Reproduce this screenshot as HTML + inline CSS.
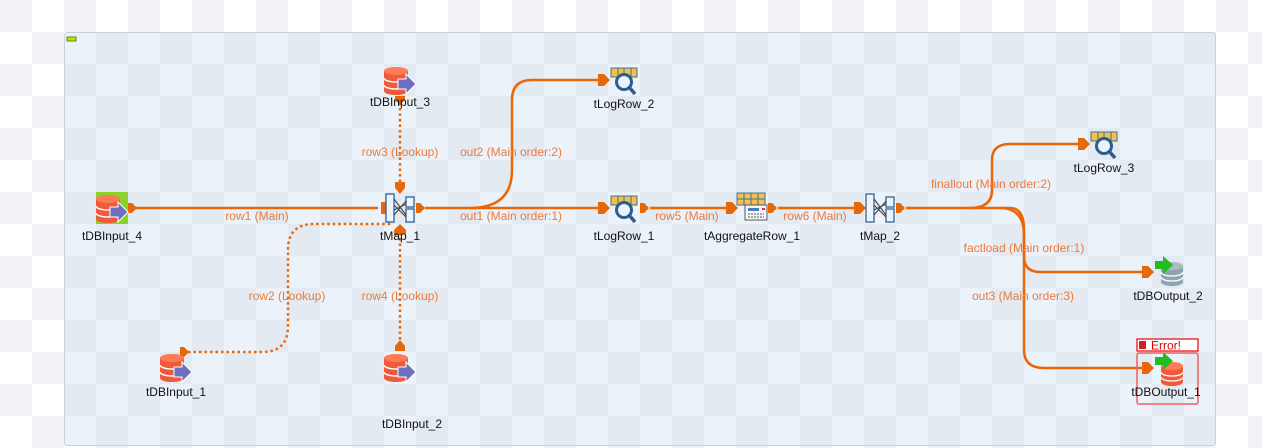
<!DOCTYPE html>
<html><head><meta charset="utf-8"><style>
html,body{margin:0;padding:0;background:#fff;}
svg{display:block;font-family:"Segoe UI","Liberation Sans",sans-serif;}
.nl{font-size:12px;fill:#111;text-anchor:middle;}
.cl{font-size:12px;fill:#ec7a3a;text-anchor:middle;}
.ln{fill:none;stroke:#e8670a;stroke-width:2.5;}
.dt{fill:none;stroke:#e8670a;stroke-width:2.5;stroke-dasharray:2.5 3;}
.ar{fill:#e8670a;}
</style></head><body>
<svg width="1262" height="448" viewBox="0 0 1262 448" xmlns="http://www.w3.org/2000/svg">
<defs>
<pattern id="outer" width="64" height="64" patternUnits="userSpaceOnUse">
<rect width="64" height="64" fill="#ffffff"/>
<rect x="0" y="0" width="32" height="32" fill="#f1f2f5"/>
<rect x="32" y="32" width="32" height="32" fill="#f1f2f5"/>
</pattern>
<pattern id="inner" x="64" y="32" width="64" height="64" patternUnits="userSpaceOnUse">
<rect width="64" height="64" fill="#e3eaf1"/>
<rect x="0" y="0" width="32" height="32" fill="#ecf2f9"/>
<rect x="32" y="32" width="32" height="32" fill="#ecf2f9"/>
</pattern>
<g id="db">
<path d="M-12,-10 v20 a12,4 0 0 0 24,0 v-20z" fill="#f05a3a"/>
<ellipse cx="0" cy="-10" rx="12" ry="4" fill="#ff7a55"/>
<path d="M-12,-3 a12,4 0 0 0 24,0 M-12,4 a12,4 0 0 0 24,0" stroke="#fff" stroke-width="1.5" fill="none"/>
</g>
<g id="inarrow"><path d="M-2,-5 h8 v-5 l10,10 l-10,10 v-5 h-8z" fill="#6f6fc2" stroke="#fff" stroke-width="1"/></g>
<g id="outarrow"><path d="M-10,-4 h8 v-5 l10,9 l-10,9 v-5 h-8z" fill="#22bb22"/></g>
<g id="log">
<rect x="-13" y="-13" width="26" height="9" fill="#f5c04a" stroke="#3c6fa0" stroke-width="1"/>
<path d="M-6,-13 v9 M0,-13 v9 M7,-13 v9" stroke="#3c6fa0" stroke-width="1"/>
<circle cx="0" cy="1" r="7.5" fill="#eaf2fb" stroke="#2d5d8c" stroke-width="3"/>
<path d="M5,6 l6,7" stroke="#2d5d8c" stroke-width="3.5"/>
</g>
<g id="map">
<rect x="-14" y="-14" width="8" height="28" fill="#eef4fb" stroke="#2f6496" stroke-width="1.3"/>
<rect x="6" y="-11" width="8" height="10" fill="#eef4fb" stroke="#2f6496" stroke-width="1.3"/>
<rect x="6" y="1" width="8" height="13" fill="#eef4fb" stroke="#2f6496" stroke-width="1.3"/>
<path d="M-6,-9 L6,7 M-6,7 L6,-7 M-6,-3 L6,9 M-6,2 L6,-4" stroke="#444" stroke-width="1.1"/>
</g>
<g id="outc"><path d="M0,-5 h4 l5,5 l-5,5 h-4z" class="ar"/></g>
<g id="inc"><path d="M-11,-6 h6 l6,6 l-6,6 h-6z" class="ar"/></g>
</defs>
<rect width="1262" height="448" fill="url(#outer)"/>
<rect x="64.5" y="32.5" width="1151" height="413" rx="3" fill="url(#inner)" stroke="#c8d2dc"/>
<rect x="67" y="37" width="9" height="4" fill="#c8e000" stroke="#5a8a00" stroke-width="1"/>

<path class="ln" d="M136,208 H378"/>
<path class="dt" d="M400,97 V182"/>
<path class="dt" d="M188,352 H262 Q288,352 288,326 V250 Q288,224 314,224 H393"/>
<path class="dt" d="M400,345 V232"/>
<path class="ln" d="M425,208 H602"/>
<path class="ln" d="M470,208 Q512,208 512,170 V100 Q512,80 532,80 H602"/>
<path class="ln" d="M650,208 H730"/>
<path class="ln" d="M778,208 H858"/>
<path class="ln" d="M906,208 H1010 Q1024,208 1024,230 V350 Q1024,368 1044,368 H1146"/>
<path class="ln" d="M970,208 Q992,208 992,190 V160 Q992,144 1010,144 H1082"/>
<path class="ln" d="M1000,208 Q1024,208 1024,235 V256 Q1024,272 1040,272 H1146"/>

<use href="#outc" x="128" y="208"/>
<use href="#inc" x="392" y="208"/>
<use href="#outc" x="416" y="208"/>
<path d="M395,182 h10 v6 l-5,6 l-5,-6z" class="ar"/>
<path d="M394,236 l0,-6 l6,-6 l6,6 v4z" class="ar"/>
<path d="M395,351 v-5 l5,-6 l5,6 v5z" class="ar"/>
<path d="M180,347 h4 l5,5 l-5,5 h-4z" class="ar"/>
<path d="M395,96 h10 v4 l-5,5 l-5,-5z" class="ar"/>
<use href="#inc" x="609" y="80"/>
<use href="#inc" x="609" y="208"/>
<use href="#outc" x="640" y="208"/>
<use href="#inc" x="737" y="208"/>
<use href="#outc" x="768" y="208"/>
<use href="#inc" x="865" y="208"/>
<use href="#outc" x="896" y="208"/>
<use href="#inc" x="1089" y="144"/>
<use href="#inc" x="1153" y="272"/>
<use href="#inc" x="1153" y="368"/>

<rect x="96" y="192" width="32" height="32" fill="#8ed12a"/>
<use href="#db" x="108" y="209"/><use href="#inarrow" x="112" y="212"/>
<use href="#db" x="396" y="81"/><use href="#inarrow" x="400" y="84"/>
<use href="#db" x="172" y="368"/><use href="#inarrow" x="176" y="372"/>
<use href="#db" x="396" y="368"/><use href="#inarrow" x="400" y="372"/>
<use href="#map" x="400" y="208"/>
<use href="#map" x="880" y="208"/>
<use href="#log" x="624" y="81"/>
<use href="#log" x="624" y="209"/>
<use href="#log" x="1104" y="145"/>
<g transform="translate(752,208)">
<rect x="-15" y="-15" width="28" height="12" fill="#f5c04a" stroke="#3c6fa0"/>
<path d="M-8,-15 v12 M-1,-15 v12 M6,-15 v12 M-15,-9 h28" stroke="#3c6fa0"/>
<rect x="-7" y="-3" width="22" height="15" fill="#f4f6f8" stroke="#555"/>
<rect x="-4" y="0" width="11" height="3" fill="#4a7bc0"/>
<rect x="10" y="0" width="3" height="2" fill="#e33"/>
<path d="M-4,6 h16 M-4,9 h16" stroke="#555" stroke-dasharray="2 1"/>
</g>
<g transform="translate(1172,272)">
<path d="M-11,-6 v16 a11,4 0 0 0 22,0 v-16z" fill="#8fa6b0"/>
<ellipse cx="0" cy="-6" rx="11" ry="4" fill="#a9bcc4"/>
<path d="M-11,0 a11,4 0 0 0 22,0 M-11,5 a11,4 0 0 0 22,0" stroke="#fff" stroke-width="1.3" fill="none"/>
</g>
<use href="#outarrow" x="1165" y="265"/>
<g transform="translate(1172,372)">
<path d="M-11,-6 v16 a11,4 0 0 0 22,0 v-16z" fill="#f05a3a"/>
<ellipse cx="0" cy="-6" rx="11" ry="4" fill="#ff7a55"/>
<path d="M-11,0 a11,4 0 0 0 22,0 M-11,5 a11,4 0 0 0 22,0" stroke="#fff" stroke-width="1.3" fill="none"/>
</g>
<use href="#outarrow" x="1165" y="361"/>
<rect x="1137" y="339" width="61" height="12" fill="#fff" stroke="#ee0000" stroke-width="1.2"/>
<rect x="1139" y="341" width="7" height="8" fill="#cc2222"/>
<text x="1151" y="349.5" style="font-size:12px;fill:#e00000">Error!</text>
<rect x="1137" y="353" width="61" height="51" rx="2" fill="none" stroke="#f06060" stroke-width="1.5"/>

<text class="nl" x="112" y="240">tDBInput_4</text>
<text class="nl" x="400" y="106">tDBInput_3</text>
<text class="nl" x="400" y="240">tMap_1</text>
<text class="nl" x="176" y="396">tDBInput_1</text>
<text class="nl" x="412" y="428">tDBInput_2</text>
<text class="nl" x="624" y="108">tLogRow_2</text>
<text class="nl" x="624" y="240">tLogRow_1</text>
<text class="nl" x="752" y="240">tAggregateRow_1</text>
<text class="nl" x="880" y="240">tMap_2</text>
<text class="nl" x="1104" y="172">tLogRow_3</text>
<text class="nl" x="1168" y="300">tDBOutput_2</text>
<text class="nl" x="1166" y="396">tDBOutput_1</text>

<text class="cl" x="257" y="220">row1 (Main)</text>
<text class="cl" x="400" y="156">row3 (Lookup)</text>
<text class="cl" x="287" y="300">row2 (Lookup)</text>
<text class="cl" x="400" y="300">row4 (Lookup)</text>
<text class="cl" x="511" y="156">out2 (Main order:2)</text>
<text class="cl" x="511" y="220">out1 (Main order:1)</text>
<text class="cl" x="687" y="220">row5 (Main)</text>
<text class="cl" x="815" y="220">row6 (Main)</text>
<text class="cl" x="991" y="188">finallout (Main order:2)</text>
<text class="cl" x="1024" y="252">factload (Main order:1)</text>
<text class="cl" x="1023" y="300">out3 (Main order:3)</text>
</svg>
</body></html>
